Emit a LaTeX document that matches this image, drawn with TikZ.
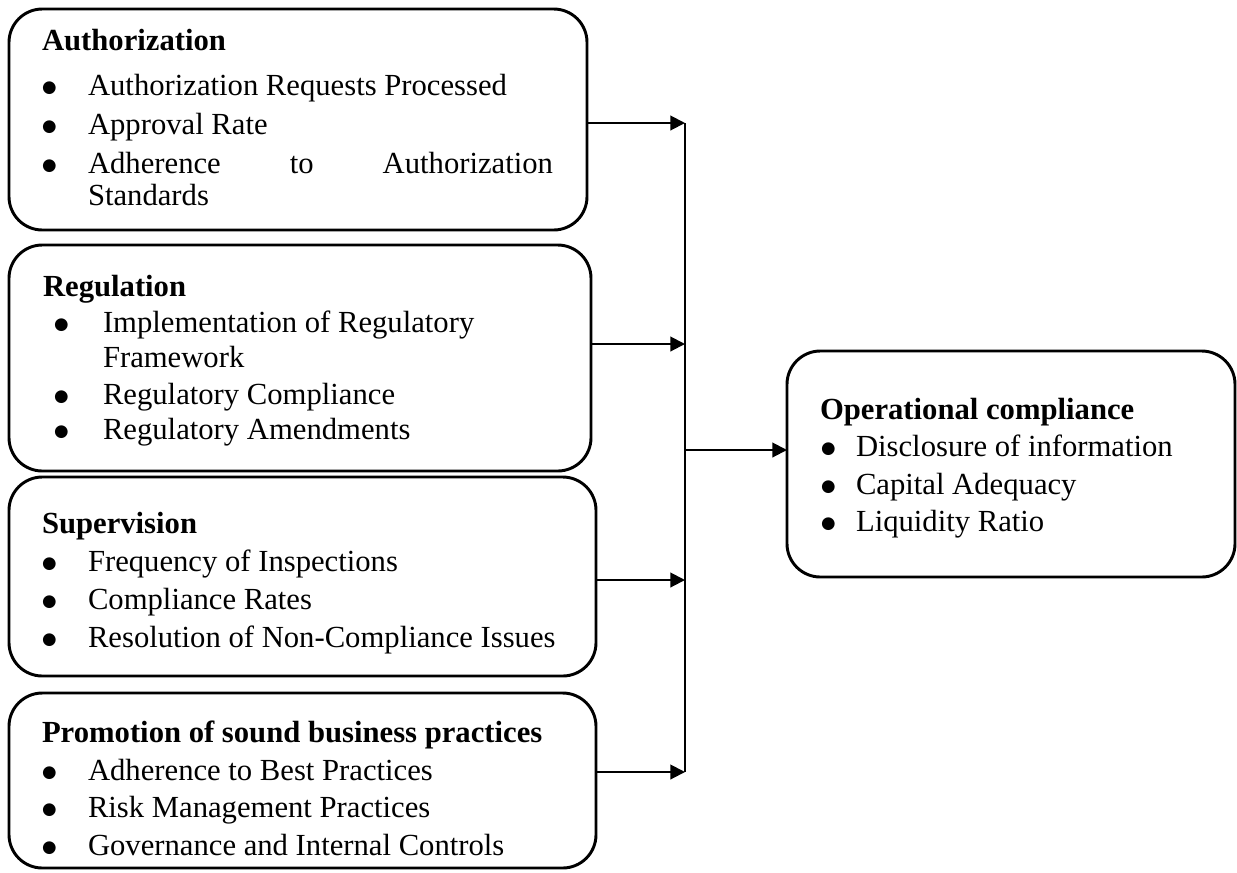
\documentclass[tikz,border=0pt]{standalone}
\usepackage{fontspec}
\setmainfont{Liberation Serif}
\newfontfamily\symfont{DejaVu Sans}
\usetikzlibrary{arrows.meta}

% one drawing unit
\newdimen\pxu \pxu=0.75pt

% lines inside a box: offsets are measured from the box's left edge
\newcommand\bigbullet{\raisebox{3\pxu}{\symfont\fontsize{12.5}{12.5}\selectfont ●}}
\newcommand\hdr[3][0]{\vspace*{#1\pxu}\noindent\hspace*{#2\pxu}\textbf{#3}\strut\par}
\newcommand\itm[4][0]{\vspace*{#1\pxu}\noindent\hspace*{#2\pxu}\makebox[0pt][l]{\bigbullet}\hspace*{\dimexpr#3\pxu-#2\pxu\relax}#4\strut\par}
\newcommand\cont[3][0]{\vspace*{#1\pxu}\noindent\hspace*{#2\pxu}#3\strut\par}
% a top-aligned text block of the given size
\newcommand\content[3]{\parbox[c][#2\pxu][t]{#1\pxu}{\fontsize{23}{28.125}\selectfont\parskip=0pt\parindent=0pt #3}}

\tikzset{
  panel/.style={draw, line width=2.2pt, rounded corners=25pt, inner sep=0pt, outer sep=0pt},
  link/.style={line width=1.5pt},
  flow/.style={link, -{Triangle[length=11pt,width=11pt]}}
}

\begin{document}
\begin{tikzpicture}[x=0.75pt,y=-0.75pt]
\useasboundingbox (0,0) rectangle (1237,872);

\node[panel] (auth) at (298,119.5) {\content{578}{221}{%
  \hdr[14.75]{33}{Authorization}
  \itm[7.5]{33}{79}{Authorization Requests Processed}
  \itm[1.5]{33}{79}{Approval Rate}
  \itm[1.5]{33}{79}{\makebox[465\pxu][s]{Adherence\hfill to\hfill Authorization}}
  \cont[-5]{79}{Standards}}};

\node[panel] (reg) at (300,358) {\content{582}{226}{%
  \hdr[24.75]{34}{Regulation}
  \itm[-1.5]{45}{94}{Implementation of Regulatory}
  \cont[-2.5]{94}{Framework}
  \itm[-0.5]{45}{94}{Regulatory Compliance}
  \itm[-2.5]{45}{94}{Regulatory Amendments}}};

\node[panel] (sup) at (302.5,576.5) {\content{587}{199}{%
  \hdr[29.75]{33}{Supervision}
  \itm[0.5]{33}{79}{Frequency of Inspections}
  \itm[0.5]{33}{79}{Compliance Rates}
  \itm[0.5]{33}{79}{Resolution of Non-Compliance Issues}}};

\node[panel] (prom) at (302.5,780.5) {\content{587}{175}{%
  \hdr[22.75]{33}{Promotion of sound business practices}
  \itm[0.5]{33}{79}{Adherence to Best Practices}
  \itm[-0.5]{33}{79}{Risk Management Practices}
  \itm[0.5]{33}{79}{Governance and Internal Controls}}};

\node[panel] (ops) at (1011,464) {\content{448}{226}{%
  \hdr[41.75]{33}{Operational compliance}
  \itm[-0.5]{34}{69}{Disclosure of information}
  \itm[0.5]{34}{69}{Capital Adequacy}
  \itm[-0.5]{34}{69}{Liquidity Ratio}}};

% junction points on the collecting line
\coordinate (j1) at (685,123);
\coordinate (j2) at (685,344);
\coordinate (j3) at (685,580);
\coordinate (j4) at (685,772);
\coordinate (jo) at (685,450);

\draw[flow] (auth.east |- j1) -- (j1);
\draw[flow] (reg.east |- j2) -- (j2);
\draw[flow] (sup.east |- j3) -- (j3);
\draw[flow] (prom.east |- j4) -- (j4);
\draw[link] (j1) -- (j4);
\draw[flow] (jo) -- (ops.west |- jo);
\end{tikzpicture}
\end{document}
